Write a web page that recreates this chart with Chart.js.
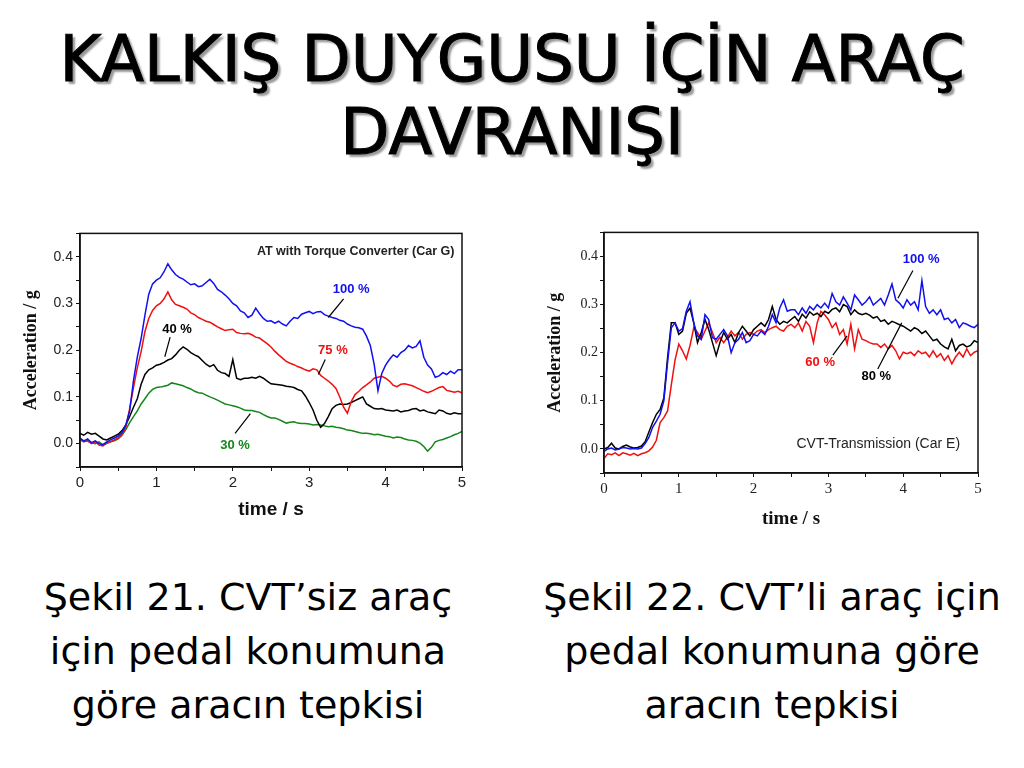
<!DOCTYPE html>
<html>
<head>
<meta charset="utf-8">
<script src="https://cdn.jsdelivr.net/npm/chart.js@4"></script>
<style>
  body { margin: 0; background: #fff; width: 1024px; height: 768px; position: relative; overflow: hidden; font-family: "DejaVu Sans", sans-serif; }
  .title { position: absolute; left: 0; top: 23px; width: 1024px; text-align: center; font-size: 64px; line-height: 73px; color: #000; -webkit-text-stroke: 1px #000; text-shadow: 3px 3px 2px #9a9a9a; }
  .box { position: absolute; }
  .cap { position: absolute; top: 570px; width: 500px; text-align: center; font-size: 38px; line-height: 54px; color: #000; }
</style>
</head>
<body>
<div class="title">KALKIŞ DUYGUSU İÇİN ARAÇ<br>DAVRANIŞI</div>

<div class="box" style="left:20px;top:222px;width:450px;height:310px"><canvas id="chartAT"></canvas></div>
<div class="box" style="left:545px;top:222px;width:440px;height:310px"><canvas id="chartCVT"></canvas></div>

<div class="cap" style="left:-2px">Şekil 21. CVT’siz araç<br>için pedal konumuna<br>göre aracın tepkisi</div>
<div class="cap" style="left:522px">Şekil 22. CVT’li araç için<br>pedal konumuna göre<br>aracın tepkisi</div>

<script>
// time axis, seconds
const time = [
  0, 0.05, 0.1, 0.15, 0.2, 0.25, 0.3, 0.35, 0.4, 0.45,
  0.5, 0.55, 0.6, 0.65, 0.7, 0.75, 0.8, 0.85, 0.9, 0.95,
  1, 1.05, 1.1, 1.15, 1.2, 1.25, 1.3, 1.35, 1.4, 1.45,
  1.5, 1.55, 1.6, 1.65, 1.7, 1.75, 1.8, 1.85, 1.9, 1.95,
  2, 2.05, 2.1, 2.15, 2.2, 2.25, 2.3, 2.35, 2.4, 2.45,
  2.5, 2.55, 2.6, 2.65, 2.7, 2.75, 2.8, 2.85, 2.9, 2.95,
  3, 3.05, 3.1, 3.15, 3.2, 3.25, 3.3, 3.35, 3.4, 3.45,
  3.5, 3.55, 3.6, 3.65, 3.7, 3.75, 3.8, 3.85, 3.9, 3.95,
  4, 4.05, 4.1, 4.15, 4.2, 4.25, 4.3, 4.35, 4.4, 4.45,
  4.5, 4.55, 4.6, 4.65, 4.7, 4.75, 4.8, 4.85, 4.9, 4.95,
  5
];

// Fig. 21 - AT with torque converter, acceleration / g
const atBlue100 = [
  0.012,0.006,0.010,0.002,0.006,0.000,-0.002,0.004,0.008,0.012,
  0.016,0.024,0.040,0.070,0.135,0.185,0.225,0.275,0.320,0.342,
  0.350,0.355,0.368,0.385,0.372,0.362,0.356,0.352,0.346,0.340,
  0.342,0.336,0.338,0.345,0.352,0.343,0.330,0.325,0.318,0.310,
  0.300,0.295,0.284,0.280,0.270,0.275,0.290,0.278,0.268,0.262,
  0.263,0.258,0.262,0.256,0.252,0.262,0.270,0.268,0.277,0.280,
  0.283,0.278,0.282,0.283,0.276,0.273,0.270,0.268,0.264,0.262,
  0.256,0.252,0.249,0.248,0.245,0.230,0.210,0.170,0.113,0.150,
  0.168,0.180,0.190,0.185,0.195,0.200,0.210,0.205,0.208,0.220,
  0.185,0.168,0.160,0.142,0.145,0.152,0.148,0.155,0.150,0.158,
  0.158
];
const atRed75 = [
  0.010,0.004,0.006,0.000,0.004,-0.003,-0.005,0.002,0.004,0.008,
  0.012,0.020,0.035,0.075,0.120,0.162,0.197,0.240,0.268,0.285,
  0.295,0.300,0.310,0.325,0.308,0.298,0.295,0.292,0.288,0.280,
  0.276,0.270,0.266,0.262,0.260,0.255,0.250,0.246,0.242,0.244,
  0.245,0.238,0.236,0.235,0.236,0.233,0.228,0.226,0.220,0.214,
  0.207,0.198,0.190,0.183,0.176,0.172,0.169,0.165,0.162,0.158,
  0.155,0.160,0.158,0.146,0.140,0.134,0.127,0.118,0.100,0.078,
  0.065,0.090,0.105,0.112,0.120,0.126,0.132,0.140,0.142,0.144,
  0.140,0.134,0.125,0.122,0.127,0.128,0.126,0.124,0.120,0.116,
  0.112,0.109,0.112,0.116,0.120,0.122,0.114,0.112,0.110,0.112,
  0.109
];
const atBlack40 = [
  0.022,0.018,0.024,0.020,0.022,0.016,0.010,0.008,0.012,0.016,
  0.020,0.028,0.040,0.058,0.078,0.096,0.127,0.148,0.158,0.162,
  0.168,0.170,0.174,0.179,0.182,0.190,0.200,0.207,0.202,0.195,
  0.190,0.186,0.178,0.170,0.165,0.169,0.157,0.152,0.150,0.144,
  0.180,0.140,0.137,0.140,0.140,0.142,0.140,0.144,0.140,0.134,
  0.128,0.127,0.126,0.125,0.123,0.122,0.120,0.116,0.113,0.102,
  0.088,0.072,0.050,0.035,0.043,0.058,0.075,0.082,0.085,0.084,
  0.085,0.088,0.092,0.096,0.100,0.085,0.080,0.075,0.074,0.075,
  0.072,0.071,0.070,0.072,0.068,0.070,0.071,0.074,0.075,0.070,
  0.072,0.068,0.066,0.064,0.072,0.070,0.065,0.063,0.066,0.064,
  0.064
];
const atGreen30 = [
  0.008,0.004,0.006,0.002,0.000,0.004,-0.003,0.000,0.004,0.006,
  0.010,0.018,0.030,0.045,0.058,0.070,0.085,0.096,0.108,0.116,
  0.120,0.121,0.123,0.125,0.130,0.128,0.126,0.124,0.120,0.117,
  0.112,0.109,0.108,0.104,0.100,0.097,0.093,0.089,0.085,0.083,
  0.081,0.079,0.076,0.072,0.071,0.071,0.069,0.067,0.062,0.058,
  0.055,0.055,0.052,0.048,0.044,0.046,0.047,0.044,0.043,0.043,
  0.042,0.040,0.041,0.040,0.038,0.036,0.037,0.035,0.034,0.032,
  0.029,0.028,0.026,0.024,0.022,0.022,0.021,0.019,0.020,0.018,
  0.016,0.015,0.012,0.014,0.013,0.010,0.008,0.007,0.005,0.001,
  -0.006,-0.016,-0.008,0.004,0.007,0.009,0.012,0.015,0.019,0.022,
  0.026
];

// Fig. 22 - CVT, acceleration / g
const cvtBlue100 = [
  -0.005,0.000,0.002,-0.002,0.000,0.003,0.002,0.000,0.001,0.000,
  0.002,0.011,0.024,0.045,0.058,0.072,0.100,0.180,0.252,0.262,
  0.245,0.250,0.286,0.306,0.262,0.235,0.228,0.279,0.269,0.231,
  0.228,0.238,0.248,0.235,0.200,0.221,0.228,0.242,0.221,0.225,
  0.238,0.235,0.245,0.238,0.255,0.279,0.262,0.293,0.310,0.286,
  0.289,0.289,0.279,0.293,0.282,0.296,0.289,0.300,0.293,0.303,
  0.293,0.323,0.306,0.299,0.316,0.303,0.289,0.320,0.310,0.299,
  0.306,0.316,0.299,0.306,0.313,0.299,0.320,0.343,0.310,0.303,
  0.293,0.310,0.299,0.306,0.289,0.350,0.296,0.282,0.289,0.279,
  0.289,0.269,0.272,0.262,0.269,0.252,0.262,0.259,0.255,0.252,
  0.259
];
const cvtBlack80 = [
  0.000,0.003,0.012,0.002,0.000,0.005,0.008,0.004,0.002,0.003,
  0.006,0.015,0.035,0.055,0.072,0.082,0.106,0.190,0.262,0.262,
  0.238,0.245,0.282,0.293,0.262,0.221,0.242,0.269,0.248,0.221,
  0.194,0.221,0.242,0.228,0.238,0.221,0.242,0.255,0.245,0.235,
  0.248,0.255,0.262,0.255,0.269,0.296,0.269,0.259,0.265,0.262,
  0.269,0.275,0.265,0.280,0.272,0.285,0.278,0.282,0.275,0.286,
  0.282,0.290,0.293,0.285,0.300,0.296,0.279,0.289,0.282,0.279,
  0.282,0.278,0.272,0.275,0.265,0.268,0.259,0.265,0.262,0.258,
  0.255,0.250,0.245,0.252,0.248,0.240,0.245,0.235,0.225,0.228,
  0.218,0.212,0.208,0.228,0.204,0.215,0.218,0.212,0.215,0.225,
  0.221
];
const cvtRed60 = [
  -0.020,-0.010,-0.012,-0.008,-0.014,-0.008,-0.010,-0.013,-0.009,-0.014,
  -0.010,-0.008,-0.004,0.004,0.018,0.055,0.065,0.079,0.133,0.185,
  0.218,0.204,0.187,0.215,0.252,0.242,0.228,0.245,0.262,0.242,
  0.221,0.232,0.221,0.232,0.245,0.235,0.242,0.228,0.238,0.242,
  0.238,0.245,0.248,0.242,0.248,0.252,0.255,0.248,0.245,0.255,
  0.259,0.252,0.262,0.245,0.265,0.255,0.221,0.262,0.286,0.279,
  0.269,0.252,0.262,0.238,0.248,0.218,0.259,0.208,0.248,0.228,
  0.225,0.221,0.218,0.218,0.211,0.218,0.208,0.215,0.204,0.187,
  0.201,0.198,0.201,0.194,0.204,0.198,0.201,0.191,0.204,0.191,
  0.198,0.184,0.194,0.177,0.191,0.201,0.191,0.208,0.194,0.201,
  0.204
];

const SANS = '"Liberation Sans", Arial, sans-serif';
const SERIF = '"Liberation Serif", "Times New Roman", serif';

// box around the plot, in-plot caption, and the "xx %" labels with leader lines
const extras = {
  id: 'extras',
  afterDatasetsDraw(chart, args, opts) {
    const { ctx, chartArea: a, scales: { x, y } } = chart;
    ctx.save();
    ctx.strokeStyle = '#111';
    ctx.lineWidth = 1.5;
    ctx.strokeRect(a.left, a.top, a.right - a.left, a.bottom - a.top);

    opts.notes.forEach(n => {
      ctx.strokeStyle = '#000';
      ctx.lineWidth = 1.2;
      ctx.beginPath();
      ctx.moveTo(x.getPixelForValue(n.from[0]), y.getPixelForValue(n.from[1]));
      ctx.lineTo(x.getPixelForValue(n.to[0]), y.getPixelForValue(n.to[1]));
      ctx.stroke();
      ctx.fillStyle = n.color;
      ctx.font = 'bold 13px ' + SANS;
      ctx.textAlign = 'center';
      ctx.textBaseline = 'middle';
      ctx.fillText(n.text, x.getPixelForValue(n.at[0]), y.getPixelForValue(n.at[1]));
    });

    const c = opts.caption;
    ctx.fillStyle = '#222';
    ctx.font = c.font;
    ctx.textAlign = 'right';
    ctx.textBaseline = 'middle';
    ctx.fillText(c.text, x.getPixelForValue(c.at[0]), y.getPixelForValue(c.at[1]));
    ctx.restore();
  }
};

function makeChart(id, series, o) {
  const datasets = series.map(s => ({
    data: s.values.map((v, i) => ({ x: time[i], y: v })),
    borderColor: s.color,
    borderWidth: 1.5,
    pointRadius: 0,
    tension: 0
  }));
  return new Chart(document.getElementById(id), {
    type: 'line',
    data: { datasets },
    plugins: [extras],
    options: {
      responsive: true,
      maintainAspectRatio: false,
      animation: false,
      events: [],
      layout: { padding: o.padding },
      plugins: {
        legend: { display: false },
        tooltip: { enabled: false },
        extras: { notes: o.notes, caption: o.caption }
      },
      scales: {
        x: {
          type: 'linear',
          min: 0, max: 5,
          afterFit: s => { s.height = o.xHeight; },
          border: { display: true, color: '#111', width: 1.5 },
          grid: { drawOnChartArea: false, drawTicks: true, tickLength: 4, color: '#111' },
          ticks: {
            stepSize: 0.5, autoSkip: false, maxRotation: 0, padding: 3,
            color: '#222', font: o.xTickFont,
            callback: v => Math.abs(v - Math.round(v)) < 1e-6 ? String(Math.round(v)) : ''
          },
          title: { display: true, text: 'time / s', color: '#111', font: o.xTitleFont, padding: o.xTitlePad }
        },
        y: {
          min: -0.05, max: 0.45,
          afterFit: s => { s.width = o.yWidth; },
          border: { display: true, color: '#111', width: 1.5 },
          grid: { drawOnChartArea: false, drawTicks: true, tickLength: 4, color: '#111' },
          ticks: {
            stepSize: 0.05, autoSkip: false, padding: o.yTickPad,
            color: '#222', font: o.yTickFont,
            callback: v => {
              const k = Math.round(v * 10);
              return (Math.abs(v * 10 - k) < 1e-6 && k >= 0 && k <= 4) ? (k / 10).toFixed(1) : '';
            }
          },
          title: { display: true, text: 'Acceleration / g', color: '#111', font: o.yTitleFont, padding: o.yTitlePad }
        }
      }
    }
  });
}

makeChart('chartAT', [
  { values: atBlue100, color: '#1010f0' },
  { values: atRed75, color: '#f01010' },
  { values: atBlack40, color: '#000000' },
  { values: atGreen30, color: '#14861a' }
], {
  padding: { top: 3, right: 8, left: 0, bottom: 0 },
  xHeight: 65, yWidth: 60,
  xTickFont: { family: SANS, size: 15 },
  yTickFont: { family: SANS, size: 14 },
  yTickPad: 3,
  xTitleFont: { family: SANS, size: 19, weight: 'bold' },
  xTitlePad: { top: 4, bottom: 11 },
  yTitleFont: { family: SERIF, size: 18, weight: 'bold' },
  yTitlePad: { top: 1, bottom: 0 },
  notes: [
    { text: '100 %', color: '#1010f0', at: [3.55, 0.33], from: [3.45, 0.31], to: [3.25, 0.27] },
    { text: '75 %', color: '#f01010', at: [3.31, 0.2], from: [3.21, 0.18], to: [3.12, 0.148] },
    { text: '40 %', color: '#000000', at: [1.27, 0.244], from: [1.18, 0.228], to: [1.11, 0.186] },
    { text: '30 %', color: '#14861a', at: [2.03, -0.003], from: [2.03, 0.022], to: [2.23, 0.064] }
  ],
  caption: { text: 'AT with Torque Converter (Car G)', font: 'bold 12.5px ' + SANS, at: [4.9, 0.412] }
});

makeChart('chartCVT', [
  { values: cvtBlue100, color: '#1010f0' },
  { values: cvtBlack80, color: '#000000' },
  { values: cvtRed60, color: '#f01010' }
], {
  padding: { top: 5, right: 7, left: 0, bottom: 0 },
  xHeight: 59, yWidth: 59,
  xTickFont: { family: SERIF, size: 15 },
  yTickFont: { family: SERIF, size: 14 },
  yTickPad: 2,
  xTitleFont: { family: SERIF, size: 19, weight: 'bold' },
  xTitlePad: { top: 4, bottom: 2 },
  yTitleFont: { family: SERIF, size: 18, weight: 'bold' },
  yTitlePad: { top: 0, bottom: 0 },
  notes: [
    { text: '100 %', color: '#1010f0', at: [4.24, 0.394], from: [4.13, 0.371], to: [3.93, 0.313] },
    { text: '60 %', color: '#f01010', at: [2.89, 0.18], from: [3.06, 0.195], to: [3.25, 0.235] },
    { text: '80 %', color: '#000000', at: [3.64, 0.15], from: [3.66, 0.166], to: [3.98, 0.262] }
  ],
  caption: { text: 'CVT-Transmission (Car E)', font: '14px ' + SANS, at: [4.76, 0.01] }
});
</script>
</body>
</html>
